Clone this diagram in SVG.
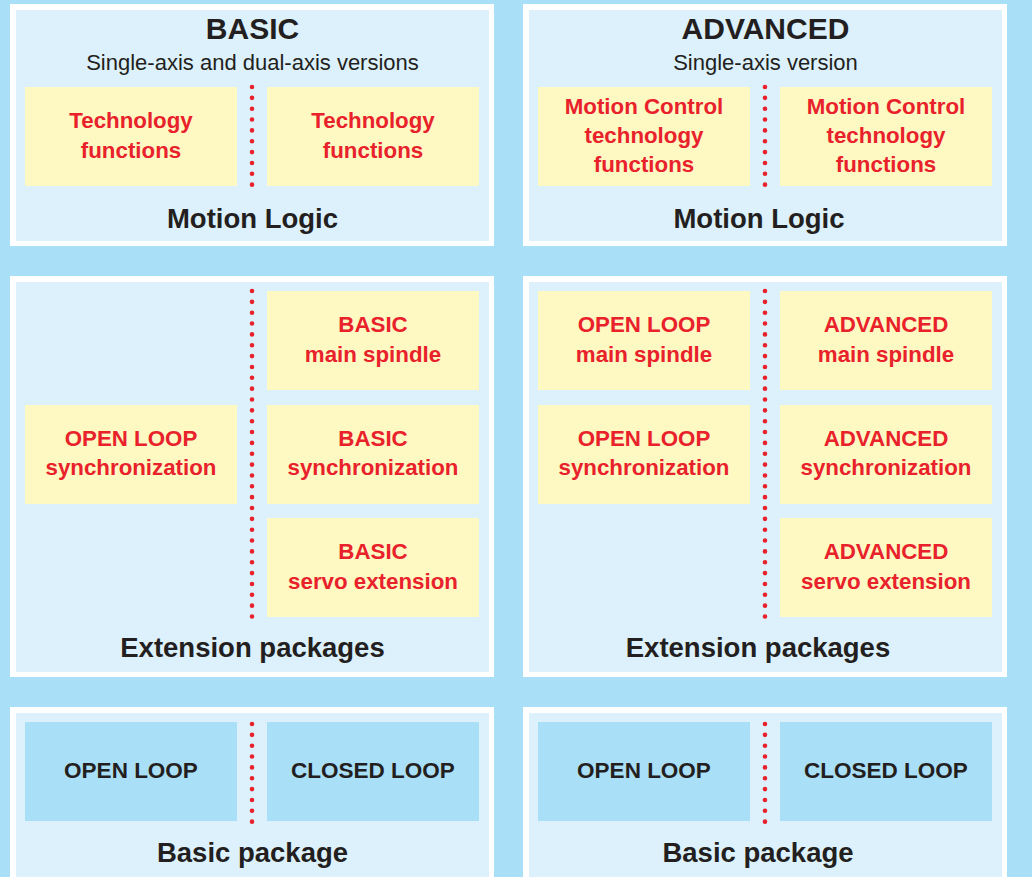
<svg xmlns="http://www.w3.org/2000/svg" width="1032" height="877" viewBox="0 0 1032 877">
<style>
.frame{fill:#ffffff}
.panel{fill:#dcf1fc}
.yel{fill:#fef8c2}
.blu{fill:#aadff8}
.dots{stroke:#e8212b;stroke-width:4.6;stroke-linecap:round;stroke-dasharray:0 10.85;fill:none}
text{font-family:"Liberation Sans",Arial,sans-serif;text-anchor:middle}
.title{font-size:30px;font-weight:bold;fill:#231f20}
.sub{font-size:22px;fill:#231f20}
.lbl{font-size:27.5px;font-weight:bold;fill:#231f20}
.red{font-size:22.3px;font-weight:bold;fill:#e8212b}
.blk{font-size:22.5px;font-weight:bold;fill:#231f20}
</style>
<rect x="0" y="0" width="1032" height="877" fill="#aadff8"/>

<g id="basic-motion-logic">
<rect class="frame" x="10" y="4" width="484" height="242"/>
<rect class="panel" x="16" y="10" width="473" height="231"/>
<text class="title" x="252.5" y="39">BASIC</text>
<text class="sub" x="252.5" y="70">Single-axis and dual-axis versions</text>
<text class="lbl" x="252.5" y="228">Motion Logic</text>
</g>
<g id="basic-tech1">
<rect class="yel" x="25" y="87" width="212" height="99"/>
<text class="red" x="131" y="128">Technology</text>
<text class="red" x="131" y="158">functions</text>
</g>
<g id="basic-tech2">
<rect class="yel" x="267" y="87" width="212" height="99"/>
<text class="red" x="373" y="128">Technology</text>
<text class="red" x="373" y="158">functions</text>
</g>

<g id="advanced-motion-logic">
<rect class="frame" x="523" y="4" width="484" height="242"/>
<rect class="panel" x="529" y="10" width="473" height="231"/>
<text class="title" x="765.5" y="39">ADVANCED</text>
<text class="sub" x="765.5" y="70">Single-axis version</text>
<text class="lbl" x="759" y="228">Motion Logic</text>
</g>
<g id="adv-tech1">
<rect class="yel" x="538" y="87" width="212" height="99"/>
<text class="red" x="644" y="114">Motion Control</text>
<text class="red" x="644" y="143">technology</text>
<text class="red" x="644" y="172">functions</text>
</g>
<g id="adv-tech2">
<rect class="yel" x="780" y="87" width="212" height="99"/>
<text class="red" x="886" y="114">Motion Control</text>
<text class="red" x="886" y="143">technology</text>
<text class="red" x="886" y="172">functions</text>
</g>

<g id="basic-extension">
<rect class="frame" x="10" y="276" width="484" height="401"/>
<rect class="panel" x="16" y="282" width="473" height="390"/>
<text class="lbl" x="252.5" y="657">Extension packages</text>
</g>
<g id="basic-ol-sync">
<rect class="yel" x="25" y="405" width="212" height="99"/>
<text class="red" x="131" y="446">OPEN LOOP</text>
<text class="red" x="131" y="475">synchronization</text>
</g>
<g id="basic-spindle">
<rect class="yel" x="267" y="291" width="212" height="99"/>
<text class="red" x="373" y="332">BASIC</text>
<text class="red" x="373" y="362">main spindle</text>
</g>
<g id="basic-sync">
<rect class="yel" x="267" y="405" width="212" height="99"/>
<text class="red" x="373" y="446">BASIC</text>
<text class="red" x="373" y="475">synchronization</text>
</g>
<g id="basic-servo">
<rect class="yel" x="267" y="518" width="212" height="99"/>
<text class="red" x="373" y="559">BASIC</text>
<text class="red" x="373" y="589">servo extension</text>
</g>

<g id="advanced-extension">
<rect class="frame" x="523" y="276" width="484" height="401"/>
<rect class="panel" x="529" y="282" width="473" height="390"/>
<text class="lbl" x="758" y="657">Extension packages</text>
</g>
<g id="adv-ol-spindle">
<rect class="yel" x="538" y="291" width="212" height="99"/>
<text class="red" x="644" y="332">OPEN LOOP</text>
<text class="red" x="644" y="362">main spindle</text>
</g>
<g id="adv-ol-sync">
<rect class="yel" x="538" y="405" width="212" height="99"/>
<text class="red" x="644" y="446">OPEN LOOP</text>
<text class="red" x="644" y="475">synchronization</text>
</g>
<g id="adv-spindle">
<rect class="yel" x="780" y="291" width="212" height="99"/>
<text class="red" x="886" y="332">ADVANCED</text>
<text class="red" x="886" y="362">main spindle</text>
</g>
<g id="adv-sync">
<rect class="yel" x="780" y="405" width="212" height="99"/>
<text class="red" x="886" y="446">ADVANCED</text>
<text class="red" x="886" y="475">synchronization</text>
</g>
<g id="adv-servo">
<rect class="yel" x="780" y="518" width="212" height="99"/>
<text class="red" x="886" y="559">ADVANCED</text>
<text class="red" x="886" y="589">servo extension</text>
</g>

<g id="basic-basic-package">
<rect class="frame" x="10" y="707" width="484" height="190"/>
<rect class="panel" x="16" y="713" width="473" height="180"/>
<text class="lbl" x="252.5" y="862">Basic package</text>
</g>
<g id="basic-open-loop">
<rect class="blu" x="25" y="722" width="212" height="99"/>
<text class="blk" x="131" y="778">OPEN LOOP</text>
</g>
<g id="basic-closed-loop">
<rect class="blu" x="267" y="722" width="212" height="99"/>
<text class="blk" x="373" y="778">CLOSED LOOP</text>
</g>

<g id="advanced-basic-package">
<rect class="frame" x="523" y="707" width="484" height="190"/>
<rect class="panel" x="529" y="713" width="473" height="180"/>
<text class="lbl" x="758" y="862">Basic package</text>
</g>
<g id="adv-open-loop">
<rect class="blu" x="538" y="722" width="212" height="99"/>
<text class="blk" x="644" y="778">OPEN LOOP</text>
</g>
<g id="adv-closed-loop">
<rect class="blu" x="780" y="722" width="212" height="99"/>
<text class="blk" x="886" y="778">CLOSED LOOP</text>
</g>

<g id="connectors">
<line class="dots" x1="252" y1="87" x2="252" y2="186"/>
<line class="dots" x1="765" y1="87" x2="765" y2="186"/>
<line class="dots" x1="252" y1="291" x2="252" y2="617"/>
<line class="dots" x1="765" y1="291" x2="765" y2="617"/>
<line class="dots" x1="252" y1="724" x2="252" y2="823"/>
<line class="dots" x1="765" y1="724" x2="765" y2="823"/>
</g>
</svg>
